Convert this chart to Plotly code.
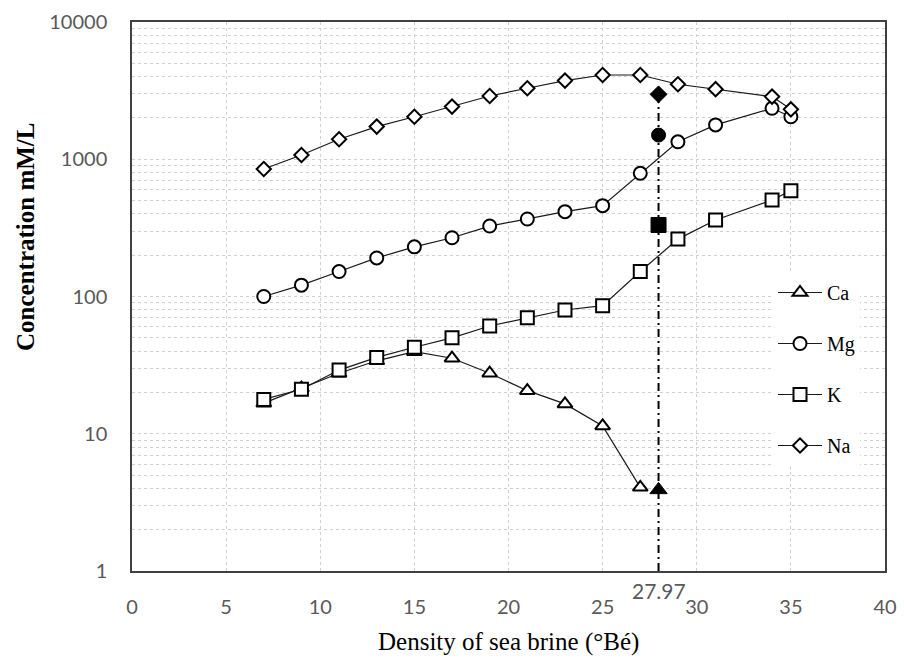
import plotly.graph_objects as go

# ---- data ----
density = [7, 9, 11, 13, 15, 17, 19, 21, 23, 25, 27, 29, 31, 34, 35]
ca_density = [7, 9, 11, 13, 15, 17, 19, 21, 23, 25, 27]
ca = [16.7, 21.5, 27.6, 34, 39.6, 35.5, 27.6, 20.6, 16.5, 11.4, 4.07]
mg = [100, 121, 152, 191, 230, 268, 326, 367, 415, 459, 790, 1340, 1780, 2350, 2040]
k = [17.8, 21.1, 29.1, 36, 42.7, 50, 61, 70, 79.7, 85.7, 152, 262, 361, 505, 590]
na = [850, 1075, 1400, 1730, 2040, 2420, 2890, 3290, 3740, 4110, 4110, 3520, 3240, 2860, 2310]

crit_x = 27.97
crit_ca = 3.9
crit_mg = 1500
crit_k = 332
crit_na = 2970
crit_label = "27.97"

x_ticks = [0, 5, 10, 15, 20, 25, 30, 35, 40]
y_ticks = [1, 10, 100, 1000, 10000]

SERIF = "Liberation Serif, Times New Roman, serif"
SANS = "Lato, Carlito, Calibri, sans-serif"

fig = go.Figure()

series = [
    ("Ca", ca_density, ca, "triangle-up", 13),
    ("Mg", density, mg, "circle", 13),
    ("K", density, k, "square", 13),
    ("Na", density, na, "diamond", 11),
]
for name, xs, ys, sym, sz in series:
    fig.add_trace(go.Scatter(
        x=xs, y=ys, name=name, mode="lines+markers",
        legendgroup=name,
        line=dict(color="#1a1a1a", width=1.2),
        marker=dict(symbol=sym, size=sz, color="white",
                    line=dict(color="black", width=2)),
    ))

# vertical dash-dot line at critical density
fig.add_trace(go.Scatter(
    x=[crit_x, crit_x], y=[1, crit_na], mode="lines", showlegend=False,
    line=dict(color="black", width=2, dash="8px,4px,2px,4px"),
    hoverinfo="skip",
))

# filled markers at critical density
for val, sym, sz in [(crit_ca, "triangle-up", 15), (crit_mg, "circle", 14),
                     (crit_k, "square", 15), (crit_na, "diamond", 13)]:
    fig.add_trace(go.Scatter(
        x=[crit_x], y=[val], mode="markers", showlegend=False,
        marker=dict(symbol=sym, size=sz, color="black",
                    line=dict(color="black", width=1)),
    ))

grid = "#d0d0d0"
fig.update_layout(
    width=904, height=665,
    margin=dict(l=132, r=19, t=22, b=94, autoexpand=False),
    paper_bgcolor="white", plot_bgcolor="white",
    showlegend=True,
    legend=dict(
        x=(773 - 132) / 753, y=(571 - 273) / 549,
        xanchor="left", yanchor="top",
        bgcolor="white", borderwidth=0,
        font=dict(family=SERIF, size=20, color="black"),
        traceorder="grouped", tracegroupgap=22,
        itemwidth=44,
    ),
    xaxis=dict(
        range=[0, 40], tickvals=x_ticks, ticktext=[str(t) for t in x_ticks],
        automargin=False,
        showgrid=True, gridcolor=grid, griddash="dot", gridwidth=1,
        zeroline=False, showline=True, linecolor="#404040", linewidth=1.5,
        mirror=True, ticks="", ticklabelstandoff=17,
        tickfont=dict(family=SANS, size=20, color="#595959"),
    ),
    yaxis=dict(
        type="log", range=[0, 4], tickvals=y_ticks,
        ticktext=[str(t) for t in y_ticks],
        automargin=False,
        showgrid=True, gridcolor=grid, griddash="dot", gridwidth=1,
        minor=dict(dtick="D1", showgrid=True, gridcolor=grid, griddash="dot",
                   gridwidth=1, ticks=""),
        zeroline=False, showline=True, linecolor="#404040", linewidth=1.5,
        mirror=True, ticks="", ticklabelstandoff=19,
        tickfont=dict(family=SANS, size=20, color="#595959"),
    ),
    annotations=[
        dict(text="Concentration mM/L", xref="paper", yref="paper",
             x=0, xshift=-106, y=(571 - 237) / 549, textangle=-90,
             xanchor="center", yanchor="middle", showarrow=False,
             font=dict(family=SERIF, size=25, color="black", weight="bold")),
        dict(text="Density of sea brine (°Bé)", xref="paper", yref="paper",
             x=0.5, y=(571 - 642) / 549, xanchor="center", yanchor="middle",
             showarrow=False,
             font=dict(family=SERIF, size=25, color="black")),
        dict(text=crit_label, xref="x", yref="paper",
             x=crit_x, y=(571 - 591) / 549, xanchor="center", yanchor="middle",
             showarrow=False,
             font=dict(family=SANS, size=21, color="#595959")),
    ],
)

fig.write_html("out.html",
               config={"displayModeBar": False},
               post_script="document.body.style.margin='0';"
                           "document.body.style.padding='0';")
